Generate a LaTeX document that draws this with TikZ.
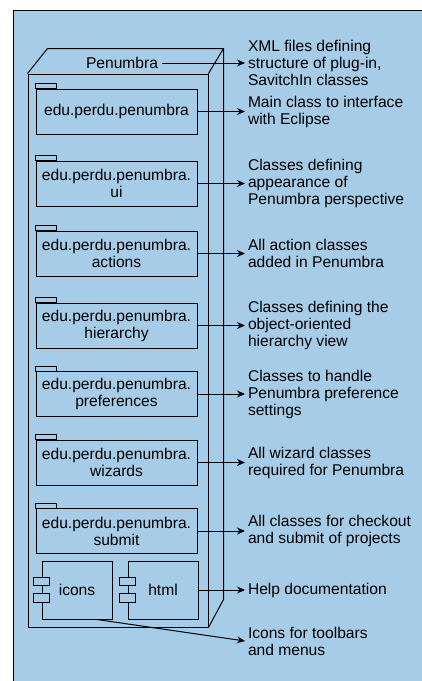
\documentclass[tikz,border=0pt]{standalone}
\usepackage{fontspec}
\setmainfont{Liberation Sans}
\usepackage{xcolor}
\usepackage{tikz}
\usetikzlibrary{arrows.meta}
\definecolor{panelblue}{RGB}{167,204,232}

\begin{document}
\begin{tikzpicture}[
  x=1pt, y=-1pt,
  font=\fontsize{15.6}{17}\selectfont,
  >={Stealth[length=8pt,width=7pt]},
  line width=1pt,
  pkg/.style={draw, align=center, inner sep=0pt,
              minimum width=161pt, minimum height=45pt},
  comp/.style={draw, align=center, inner sep=0pt,
               minimum width=70pt, minimum height=58pt},
  port/.style={draw, fill=panelblue, inner sep=0pt,
               minimum width=16pt, minimum height=8.5pt},
  note/.style={anchor=west, align=left, inner xsep=2.5pt, inner ysep=0pt},
  arr/.style={->}
]
% ---- panel ----
\useasboundingbox (0,0) rectangle (422,681);
\fill[panelblue] (13,10) rectangle (422,681);
\draw (13,681) -- (13,10) -- (422,10);

% ---- node (3d box) ----
\node[draw, inner sep=0pt, minimum width=180pt, minimum height=553pt] (cube) at (118,350.5) {};
\draw (cube.north west) -- ++(20,-25) -- ++(176,0) coordinate (bt)
      -- ++(0,551) -- (cube.south east);
\draw (cube.north east) -- (bt);
\node (title) at (122,63) {Penumbra};

% ---- packages ----
\node[pkg] (p1) at (116.5,111.5) {edu.perdu.penumbra};
\node[pkg] (p2) at (116.5,183.5) {edu.perdu.penumbra.\\ui};
\node[pkg] (p3) at (116.5,253.5) {edu.perdu.penumbra.\\actions};
\node[pkg] (p4) at (116.5,325.5) {edu.perdu.penumbra.\\hierarchy};
\node[pkg] (p5) at (116.5,394)   {edu.perdu.penumbra.\\preferences};
\node[pkg] (p6) at (116.5,462.5) {edu.perdu.penumbra.\\wizards};
\node[pkg] (p7) at (116.5,531)   {edu.perdu.penumbra.\\submit};

\draw (p1.north west) rectangle ++(21,-5);
\draw (p2.north west) rectangle ++(21,-5);
\draw (p3.north west) rectangle ++(21,-5);
\draw (p4.north west) rectangle ++(21,-5);
\draw (p5.north west) rectangle ++(21,-5);
\draw (p6.north west) rectangle ++(21,-5);
\draw (p7.north west) rectangle ++(21,-5);

% ---- components ----
\node[comp] (icons) at (77,590)  {icons};
\node[comp] (html)  at (163,590) {html};
\node[port] (ic1) at ([yshift=8.5pt]icons.west) {};
\node[port] (ic2) at ([yshift=-8pt]icons.west) {};
\node[port] (ht1) at ([yshift=8.5pt]html.west) {};
\node[port] (ht2) at ([yshift=-8pt]html.west) {};

% ---- notes ----
\node[note] (n0) at (245,63)    {XML files defining\\structure of plug-in,\\SavitchIn classes};
\node[note] (n1) at (245,111.5) {Main class to interface\\with Eclipse};
\node[note] (n2) at (245,183.5) {Classes defining\\appearance of\\Penumbra perspective};
\node[note] (n3) at (245,253.5) {All action classes\\added in Penumbra};
\node[note] (n4) at (245,325.5) {Classes defining the\\object-oriented\\hierarchy view};
\node[note] (n5) at (245,394)   {Classes to handle\\Penumbra preference\\settings};
\node[note] (n6) at (245,462.5) {All wizard classes\\required for Penumbra};
\node[note] (n7) at (245,531)   {All classes for checkout\\and submit of projects};
\node[note] (n8) at (245,590)   {Help documentation};
\node[note] (n9) at (245,641)   {Icons for toolbars\\and menus};

% ---- connectors ----
\draw[arr] (title.east) -- (n0.west);
\draw[arr] (p1.east) -- (n1.west);
\draw[arr] (p2.east) -- (n2.west);
\draw[arr] (p3.east) -- (n3.west);
\draw[arr] (p4.east) -- (n4.west);
\draw[arr] (p5.east) -- (n5.west);
\draw[arr] (p6.east) -- (n6.west);
\draw[arr] (p7.east) -- (n7.west);
\draw[arr] (html.east) -- (n8.west);
\draw[arr] ([xshift=20pt]icons.south) -- (n9.west);
\end{tikzpicture}
\end{document}
